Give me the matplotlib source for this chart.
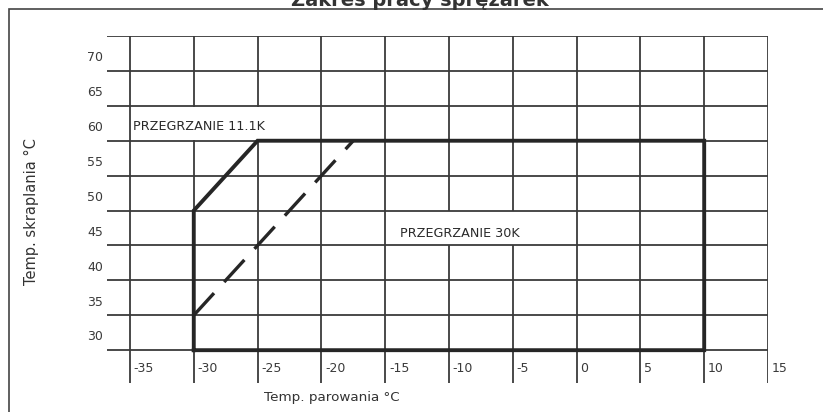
import matplotlib
matplotlib.use('Agg')
import matplotlib.pyplot as plt
from matplotlib.patches import Rectangle

plt.rcParams['font.family'] = ['DejaVu Sans']

# grid values
x_ticks = [-35, -30, -25, -20, -15, -10, -5, 0, 5, 10, 15]
y_ticks = [30, 35, 40, 45, 50, 55, 60, 65, 70]
y_top = 75

# working envelope, superheat 11.1K (solid)
env_x = [-30, -30, -25, 10, 10, -30]
env_y = [30, 50, 60, 60, 30, 30]
# superheat 30K boundary (dashed)
sh30_x = [-30, -17.5]
sh30_y = [35, 60]

title = 'Zakres pracy sprężarek'
xlabel = 'Temp. parowania °C'
ylabel = 'Temp. skraplania °C'
label_11 = 'PRZEGRZANIE 11.1K'
label_30 = 'PRZEGRZANIE 30K'

fig = plt.figure(figsize=(8.23, 4.12), dpi=100)
fig.patch.set_facecolor('white')

# outer frame of the scanned chart
fig.patches.append(Rectangle((9 / 823, -0.2), 1.2, 1 - 9 / 412 + 0.2,
                             transform=fig.transFigure, fill=False,
                             lw=1.2, ec='#444444'))
# title sits at the very top edge, as in the scan
fig.text(420 / 823, 1 - 6 / 412, title, ha='center', va='baseline',
         fontsize=14, fontweight='bold', color='#333333')

ax = fig.add_axes([107 / 823, 1 - 383 / 412, (768 - 107) / 823, (383 - 36) / 412])
x0, x1 = -36.8, 15
y0, y1 = 25.3, 75
ax.set_xlim(x0, x1)
ax.set_ylim(y0, y1)
ax.axis('off')

gc = '#3a3a3a'
for x in x_ticks:
    ax.plot([x, x], [y0, y1], color=gc, lw=1.3, solid_capstyle='butt', zorder=1)
for y in y_ticks + [y_top]:
    ax.plot([x0, x1], [y, y], color=gc, lw=1.3, solid_capstyle='butt', zorder=3)

# white label boxes blank out the vertical grid lines in their cell row
ax.add_patch(Rectangle((-34.85, 60.1), 13.3, 4.8, fc='white', ec='none', zorder=2))
ax.add_patch(Rectangle((-14.85, 45.1), 14.0, 4.8, fc='white', ec='none', zorder=2))

ax.plot(env_x, env_y, color='#262626', lw=2.8, solid_joinstyle='miter', zorder=4)
ax.plot(sh30_x, sh30_y, color='#262626', lw=2.4, dashes=(9, 4.5), zorder=4)

for y in y_ticks:
    ax.text(x0 - 0.3, y + 1.9, str(y), ha='right', va='center',
            fontsize=9, color='#3a3a3a')
for x in x_ticks:
    ax.text(x + 0.3, 27.4, str(x), ha='left', va='center',
            fontsize=9, color='#3a3a3a')

ax.text(-34.8, 62.0, label_11, ha='left', va='center', fontsize=9.2,
        color='#2a2a2a', zorder=5)
ax.text(-13.8, 46.7, label_30, ha='left', va='center', fontsize=9.2,
        color='#2a2a2a', zorder=5)

fig.text(332 / 823, 1 - 398 / 412, xlabel, ha='center', va='center',
         fontsize=9.7, color='#333333')
fig.text(31 / 823, 1 - 212 / 412, ylabel, ha='center', va='center',
         rotation=90, fontsize=10.5, color='#333333')

fig.savefig('out.png', dpi=100)
